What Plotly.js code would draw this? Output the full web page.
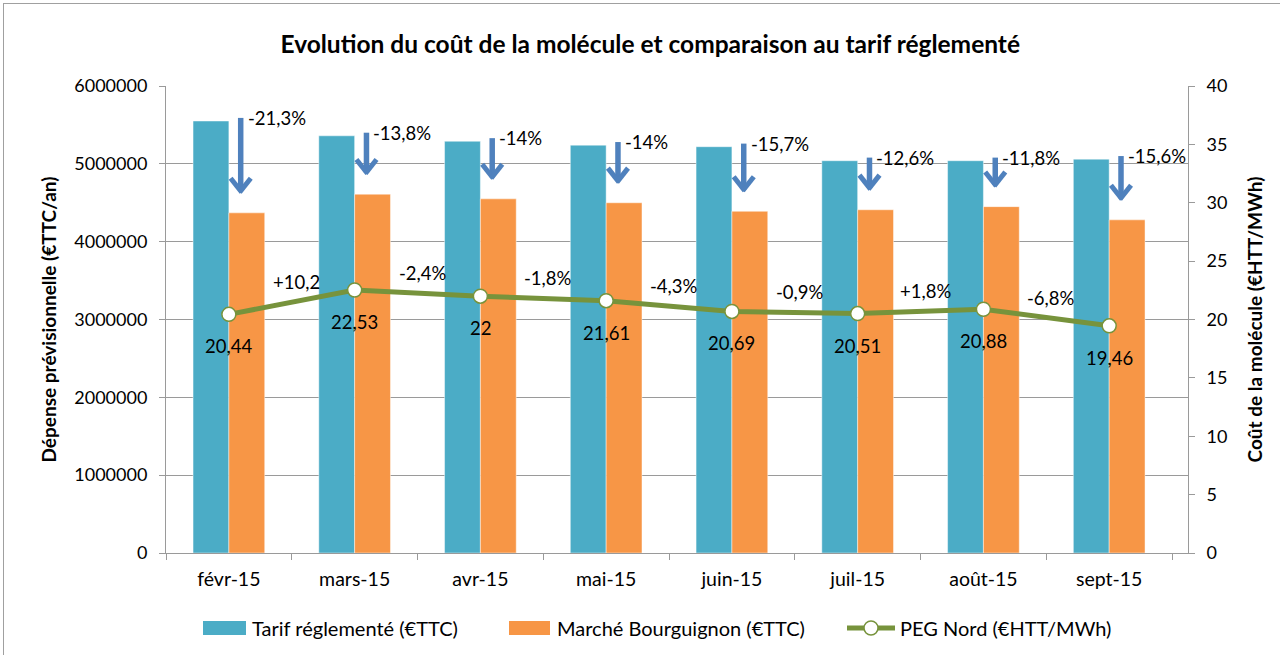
<!DOCTYPE html>
<html>
<head>
<meta charset="utf-8">
<script src="https://cdn.plot.ly/plotly-3.0.1.min.js"></script>
<style>
  html, body { margin: 0; padding: 0; background: #fff; }
  #chart { width: 1280px; height: 655px; }
  #frame { position: absolute; left: 3px; top: 3px; width: 1300px; height: 700px;
           border-top: 1px solid #a0a0a0; border-left: 1px solid #a0a0a0; pointer-events: none; }
</style>
</head>
<body>
<div id="chart"></div>
<div id="frame"></div>
<script>
// ---- data ----
const months = ['févr-15', 'mars-15', 'avr-15', 'mai-15', 'juin-15', 'juil-15', 'août-15', 'sept-15'];
const tarifReglemente = [5550000, 5360000, 5290000, 5240000, 5220000, 5040000, 5040000, 5060000];
const marcheBourguignon = [4370000, 4610000, 4550000, 4500000, 4390000, 4410000, 4450000, 4280000];
const pegNord = [20.44, 22.53, 22, 21.61, 20.69, 20.51, 20.88, 19.46];
const ecartLabels = ['-21,3%', '-13,8%', '-14%', '-14%', '-15,7%', '-12,6%', '-11,8%', '-15,6%'];
const evolutionLabels = ['+10,2', '-2,4%', '-1,8%', '-4,3%', '-0,9%', '+1,8%', '-6,8%'];
const seriesNames = ['Tarif réglementé (€TTC)', 'Marché Bourguignon (€TTC)', 'PEG Nord (€HTT/MWh)'];

const FONT = 'Lato, "Open Sans", "DejaVu Sans", sans-serif';
const TEAL = '#4BACC6', ORANGE = '#F79646', GREEN = '#77933C', BLUE = '#4F81BD';
const GRID = '#9a9a9a';

const M = { l: 166, r: 92, t: 86, b: 102 };
const W = 1280, H = 655;
const PW = W - M.l - M.r, PH = H - M.t - M.b;
const px = v => (v - M.l) / PW;      // page pixel -> paper x
const py = v => (H - M.b - v) / PH;  // page pixel -> paper y

const traces = [
  { type: 'bar', name: seriesNames[0], x: months, y: tarifReglemente,
    marker: { color: TEAL, line: { color: 'rgba(255,255,255,0.45)', width: 1 } }, hoverinfo: 'y' },
  { type: 'bar', name: seriesNames[1], x: months, y: marcheBourguignon,
    marker: { color: ORANGE, line: { color: 'rgba(255,255,255,0.45)', width: 1 } }, hoverinfo: 'y' },
  { type: 'scatter', mode: 'lines+markers', name: seriesNames[2], x: months, y: pegNord, yaxis: 'y2',
    line: { color: GREEN, width: 5 },
    marker: { size: 14, color: '#ffffff', line: { color: GREEN, width: 1.5 } } }
];

const shapes = [];
const annotations = [];
const off = 0.094;
const headDx = 0.08, headDy = 165000;
months.forEach((m, i) => {
  const x = i + off;
  const y0 = tarifReglemente[i] + 40000;
  const y1 = marcheBourguignon[i] + 280000;
  shapes.push({ type: 'line', xref: 'x', yref: 'y', x0: x, x1: x, y0: y0, y1: y1 + 8000,
                line: { color: BLUE, width: 5.5 } });
  shapes.push({ type: 'line', xref: 'x', yref: 'y', x0: x - headDx, x1: x + 0.008, y0: y1 + headDy, y1: y1 - 15000,
                line: { color: BLUE, width: 5 } });
  shapes.push({ type: 'line', xref: 'x', yref: 'y', x0: x + headDx, x1: x - 0.008, y0: y1 + headDy, y1: y1 - 15000,
                line: { color: BLUE, width: 5 } });
  annotations.push({ xref: 'x', yref: 'y', x: x, y: y0, text: ecartLabels[i], showarrow: false,
                     xanchor: 'left', yanchor: 'middle', xshift: 5,
                     font: { family: FONT, size: 18.5, color: '#000' } });
  annotations.push({ xref: 'x', yref: 'y2', x: i, y: pegNord[i], text: String(pegNord[i]).replace('.', ','),
                     showarrow: false, xanchor: 'center', yanchor: 'middle', yshift: -32,
                     font: { family: FONT, size: 18.5, color: '#000' } });
});
evolutionLabels.forEach((t, i) => {
  annotations.push({ xref: 'x', yref: 'y2', x: i + 0.5 + 0.04, y: (pegNord[i] + pegNord[i + 1]) / 2, text: t,
                     showarrow: false, xanchor: 'center', yanchor: 'middle', yshift: 20,
                     font: { family: FONT, size: 18.5, color: '#000' } });
});

// ---- custom legend ----
const LY = 628;
shapes.push({ type: 'rect', xref: 'paper', yref: 'paper', x0: px(203), x1: px(246), y0: py(621), y1: py(635),
              fillcolor: TEAL, line: { width: 0 } });
shapes.push({ type: 'rect', xref: 'paper', yref: 'paper', x0: px(509), x1: px(550), y0: py(621), y1: py(635),
              fillcolor: ORANGE, line: { width: 0 } });
shapes.push({ type: 'line', xref: 'paper', yref: 'paper', x0: px(847), x1: px(895), y0: py(LY), y1: py(LY),
              line: { color: GREEN, width: 5 } });
shapes.push({ type: 'circle', xref: 'paper', yref: 'paper', xsizemode: 'pixel', ysizemode: 'pixel',
              xanchor: px(871), yanchor: py(LY), x0: -7, x1: 7, y0: -7, y1: 7,
              fillcolor: '#ffffff', line: { color: GREEN, width: 1.5 } });
[[250, seriesNames[0]], [555, seriesNames[1]], [898, seriesNames[2]]].forEach(([xp, t]) => {
  annotations.push({ xref: 'paper', yref: 'paper', x: px(xp), y: py(LY), text: t, showarrow: false,
                     xanchor: 'left', yanchor: 'middle', font: { family: FONT, size: 20, color: '#000' } });
});

const layout = {
  width: W, height: H,
  margin: M,
  paper_bgcolor: '#ffffff', plot_bgcolor: '#ffffff',
  font: { family: FONT, size: 18, color: '#000' },
  title: { text: '<b>Evolution du coût de la molécule et comparaison au tarif réglementé</b>',
           font: { family: FONT, size: 24.5, color: '#000' },
           x: 0.508, xref: 'container', xanchor: 'center', y: 1 - 44 / 655, yref: 'container', yanchor: 'middle' },
  barmode: 'group', bargap: 0.43, bargroupgap: 0,
  showlegend: false,
  xaxis: { type: 'category', tickson: 'boundaries', ticks: 'outside', ticklen: 6, tickcolor: GRID,
           showline: true, linecolor: GRID, linewidth: 1, showgrid: false, fixedrange: true,
           tickfont: { family: FONT, size: 19.5, color: '#000' }, ticklabelstandoff: 9 },
  yaxis: { range: [0, 6000000], dtick: 1000000, tickformat: 'd', showgrid: true, gridcolor: GRID, gridwidth: 1,
           zeroline: false, showline: true, linecolor: GRID, ticks: 'outside', ticklen: 6, tickcolor: GRID,
           tickfont: { family: FONT, size: 18, color: '#000' }, ticklabelstandoff: 8,
           title: { text: '<b>Dépense prévisionnelle (€TTC/an)</b>', font: { family: FONT, size: 19, color: '#000' }, standoff: 12 } },
  yaxis2: { range: [0, 40], dtick: 5, overlaying: 'y', side: 'right', showgrid: false, zeroline: false,
            showline: true, linecolor: GRID, ticks: 'outside', ticklen: 6, tickcolor: GRID,
            tickfont: { family: FONT, size: 18, color: '#000' }, ticklabelstandoff: 8,
            title: { text: '<b>Coût de la molécule (€HTT/MWh)</b>', font: { family: FONT, size: 19, color: '#000' }, standoff: 22 } },
  shapes: shapes,
  annotations: annotations
};

Plotly.newPlot('chart', traces, layout, { displayModeBar: false, staticPlot: true });
</script>
</body>
</html>
